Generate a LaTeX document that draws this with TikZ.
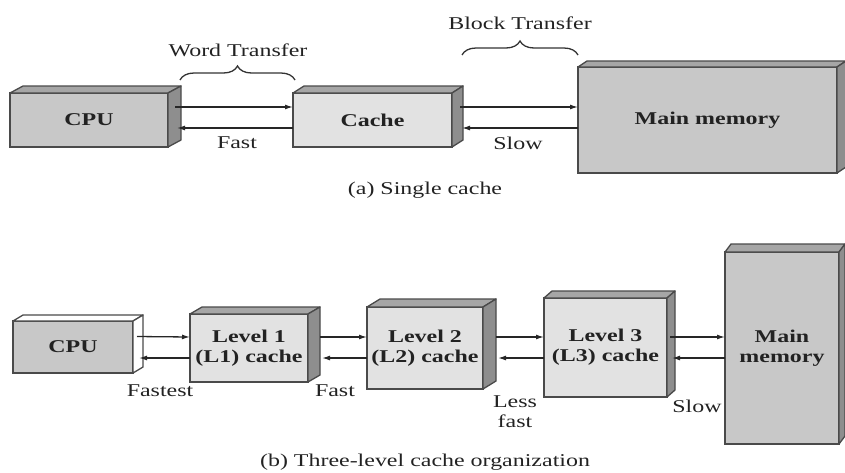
\documentclass[tikz,border=0pt]{standalone}
\usepackage{fontspec}
\setmainfont{Liberation Serif}[FakeStretch=1.33]
\usetikzlibrary{arrows.meta,calc,decorations.pathreplacing}
\definecolor{edge}{HTML}{4a4a4a}
\definecolor{txt}{HTML}{222222}
\definecolor{grayf}{HTML}{c8c8c8}
\definecolor{lightf}{HTML}{e2e2e2}
\definecolor{topf}{HTML}{a6a6a6}
\definecolor{sidef}{HTML}{8e8e8e}
\newcommand\boxfaces[5]{%
  \filldraw[fill=#4, draw=edge, line width=1.3pt, line join=round]
    (#1.north west) -- ++(#2,#3) -- ($(#1.north east)+(#2,#3)$) -- (#1.north east) -- cycle;
  \filldraw[fill=#5, draw=edge, line width=1.3pt, line join=round]
    (#1.north east) -- ++(#2,#3) -- ($(#1.south east)+(#2,#3)$) -- (#1.south east) -- cycle;
}
\begin{document}
\begin{tikzpicture}[x=1pt,y=-1pt,
  front/.style={draw=edge, line width=1.3pt, inner sep=0pt, outer sep=0pt,
    font=\fontsize{18}{20}\selectfont\bfseries, align=center, text=txt},
  lbl/.style={font=\fontsize{18}{20}\selectfont, text=txt, inner sep=0pt, align=center},
  arr/.style={-{Latex[length=8pt,width=5pt]}, line width=1.3pt, draw=black!85},
  br/.style={decorate, decoration={brace, amplitude=14pt}, line width=1.3pt, draw=black!80}]
\useasboundingbox (0,0) rectangle (845,472);

% ---------- (a) single cache ----------
\node[front, fill=grayf, minimum width=158pt, minimum height=54pt] (cpuA) at (89,120) {CPU};
\boxfaces{cpuA}{13}{-7}{topf}{sidef}
\node[front, fill=lightf, minimum width=159pt, minimum height=54pt] (cache) at (372.5,120) {Cache};
\boxfaces{cache}{11}{-7}{topf}{sidef}
\node[front, fill=grayf, minimum width=259pt, minimum height=106pt] (mmA) at (707.5,120) {Main memory};
\boxfaces{mmA}{9}{-6}{topf}{sidef}

\draw[arr] ($(cpuA.east)+(7,-13)$) -- ($(cache.west)+(0,-13)$);
\draw[arr] ($(cache.west)+(0,8)$) -- ($(cpuA.east)+(9,8)$);
\draw[arr] ($(cache.east)+(8,-13)$) -- ($(mmA.west)+(0,-13)$);
\draw[arr] ($(mmA.west)+(0,8)$) -- ($(cache.east)+(10,8)$);

\coordinate (wb1) at (180,80);
\coordinate (wb2) at (295,80);
\draw[br] (wb1) -- (wb2);
\node[lbl] (wt) at (238,50) {Word Transfer};
\coordinate (bb1) at (462,55);
\coordinate (bb2) at (578,55);
\draw[br] (bb1) -- (bb2);
\node[lbl] (bt) at (520,23) {Block Transfer};
\node[lbl] (fastA) at (237,143) {Fast};
\node[lbl] (slowA) at (518,143) {Slow};
\node[lbl] (capA) at (425,190) {(a) Single cache};

% ---------- (b) three-level ----------
\node[front, fill=grayf, minimum width=120pt, minimum height=52pt] (cpuB) at (73,347) {CPU};
\boxfaces{cpuB}{10}{-6}{white}{white}
\node[front, fill=lightf, minimum width=118pt, minimum height=68pt] (l1) at (249,348) {Level 1\\(L1) cache};
\boxfaces{l1}{12}{-7}{topf}{sidef}
\node[front, fill=lightf, minimum width=116pt, minimum height=82pt] (l2) at (425,348) {Level 2\\(L2) cache};
\boxfaces{l2}{13}{-8}{topf}{sidef}
\node[front, fill=lightf, minimum width=123pt, minimum height=99pt] (l3) at (605.5,347.5) {Level 3\\(L3) cache};
\boxfaces{l3}{8}{-7}{topf}{sidef}
\node[front, fill=grayf, minimum width=114pt, minimum height=192pt] (mmB) at (782,348) {Main\\memory};
\boxfaces{mmB}{6}{-8}{topf}{sidef}

\draw[arr] ($(cpuB.east)+(4,-10.5)$) -- ($(l1.west)+(0,-11)$);
\draw[arr] ($(l1.west)+(0,10)$) -- ($(cpuB.east)+(6,11)$);
\draw[arr] ($(l1.east)+(12,-11)$) -- ($(l2.west)+(0,-11)$);
\draw[arr] ($(l2.west)+(0,10)$) -- ($(l1.east)+(14,10)$);
\draw[arr] ($(l2.east)+(13,-11)$) -- ($(l3.west)+(0,-10.5)$);
\draw[arr] ($(l3.west)+(0,10.5)$) -- ($(l2.east)+(15,10)$);
\draw[arr] ($(l3.east)+(3,-10.5)$) -- ($(mmB.west)+(0,-11)$);
\draw[arr] ($(mmB.west)+(0,10)$) -- ($(l3.east)+(5,10.5)$);

\node[lbl] (fastest) at (160,391) {Fastest};
\node[lbl] (fastB) at (335,391) {Fast};
\node[lbl] (lessfast) at (515,412) {Less\\fast};
\node[lbl] (slowB) at (697,406) {Slow};
\node[lbl] (capB) at (425,462) {(b) Three-level cache organization};
\end{tikzpicture}
\end{document}
